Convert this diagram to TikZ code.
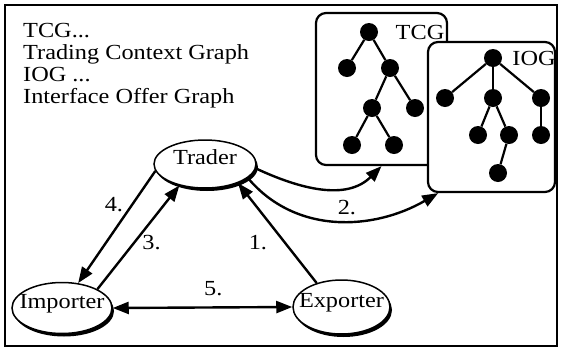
\documentclass[tikz,border=0pt]{standalone}
\usepackage{fontspec}
\setmainfont{Liberation Serif}[FakeStretch=1.13]
\usetikzlibrary{arrows.meta,shapes.geometric,shadows}

\tikzset{
  party/.style={ellipse, draw, line width=1.5pt, fill=white, inner xsep=-16pt, inner ysep=0pt,
    text depth=14pt, minimum width=102pt, minimum height=48pt,
    drop shadow={shadow xshift=2pt, shadow yshift=-3pt, opacity=1, fill=black}},
  graphbox/.style={draw, rounded corners=10pt, line width=2.2pt, fill=white},
  dot/.style={circle, fill=black, inner sep=0pt, minimum size=18pt},
  twig/.style={line width=2.2pt},
  msg/.style={line width=2.4pt, ->},
  lbl/.style={inner sep=0pt},
}

\begin{document}
\begin{tikzpicture}[x=1pt, y=-1pt, font=\fontsize{21.5pt}{21.7pt}\selectfont,
  >={Triangle[length=16pt,width=12pt]}]
\useasboundingbox (0,0) rectangle (563,349);
\draw[line width=1.8pt] (5,5) rectangle (557,346);

% legend
\node[anchor=north west, inner sep=0pt, align=left] (legend) at (23,23.5)
  {TCG...\\Trading Context Graph\\IOG ...\\Interface Offer Graph};

% trading context graph
\node[graphbox, minimum width=131pt, minimum height=152pt] (tcg) at (381.5,89) {};
\node[anchor=base] (tcgname) at (420,39) {TCG};
\foreach \n/\x/\y in {c1/369/32, c2/347/68, c3/390/68, c4/372/108, c5/415/108, c6/352/145, c7/394/145}
  \node[dot] (\n) at (\x,\y) {};
\foreach \a/\b in {c1/c2, c1/c3, c3/c4, c3/c5, c4/c6, c4/c7}
  \draw[twig] (\a) -- (\b);

% interface offer graph
\node[graphbox, minimum width=127pt, minimum height=150pt] (iog) at (491.5,117) {};
\node[anchor=base] (iogname) at (534,65) {IOG};
\foreach \n/\x/\y in {o1/493/58, o2/445/98, o3/493/98, o4/541/98, o5/478/135, o6/509/135, o7/541/135, o8/498/173}
  \node[dot] (\n) at (\x,\y) {};
\foreach \a/\b in {o1/o2, o1/o3, o1/o4, o3/o5, o3/o6, o4/o7, o6/o8}
  \draw[twig] (\a) -- (\b);

% parties
\node[party] (trader) at (205,164) {Trader};
\node[party, minimum width=100pt, minimum height=51pt] (importer) at (62,308) {Importer};
\node[party, minimum width=97pt, minimum height=54pt] (exporter) at (341.5,307) {Exporter};

% messages
\draw[msg] (exporter.136) -- node[lbl, pos=0.4, left=17pt] {1.} (trader.-30);
\draw[msg] (trader.-5) to[out=-25, in=-135] (tcg.south);
\draw[msg] (trader.-18) to[out=-50, in=-150] node[lbl, pos=0.55, above=5pt] {2.} (iog.-125);
\draw[msg] (importer.28) -- node[lbl, pos=0.45, right=7pt] {3.} (trader.-140);
\draw[msg] (trader.-172) -- node[lbl, pos=0.3, left=8pt] {4.} (importer.57);
\draw[msg, <->] (importer.east) -- node[lbl, pos=0.56, above=10pt] {5.} (exporter.west);
\end{tikzpicture}
\end{document}
